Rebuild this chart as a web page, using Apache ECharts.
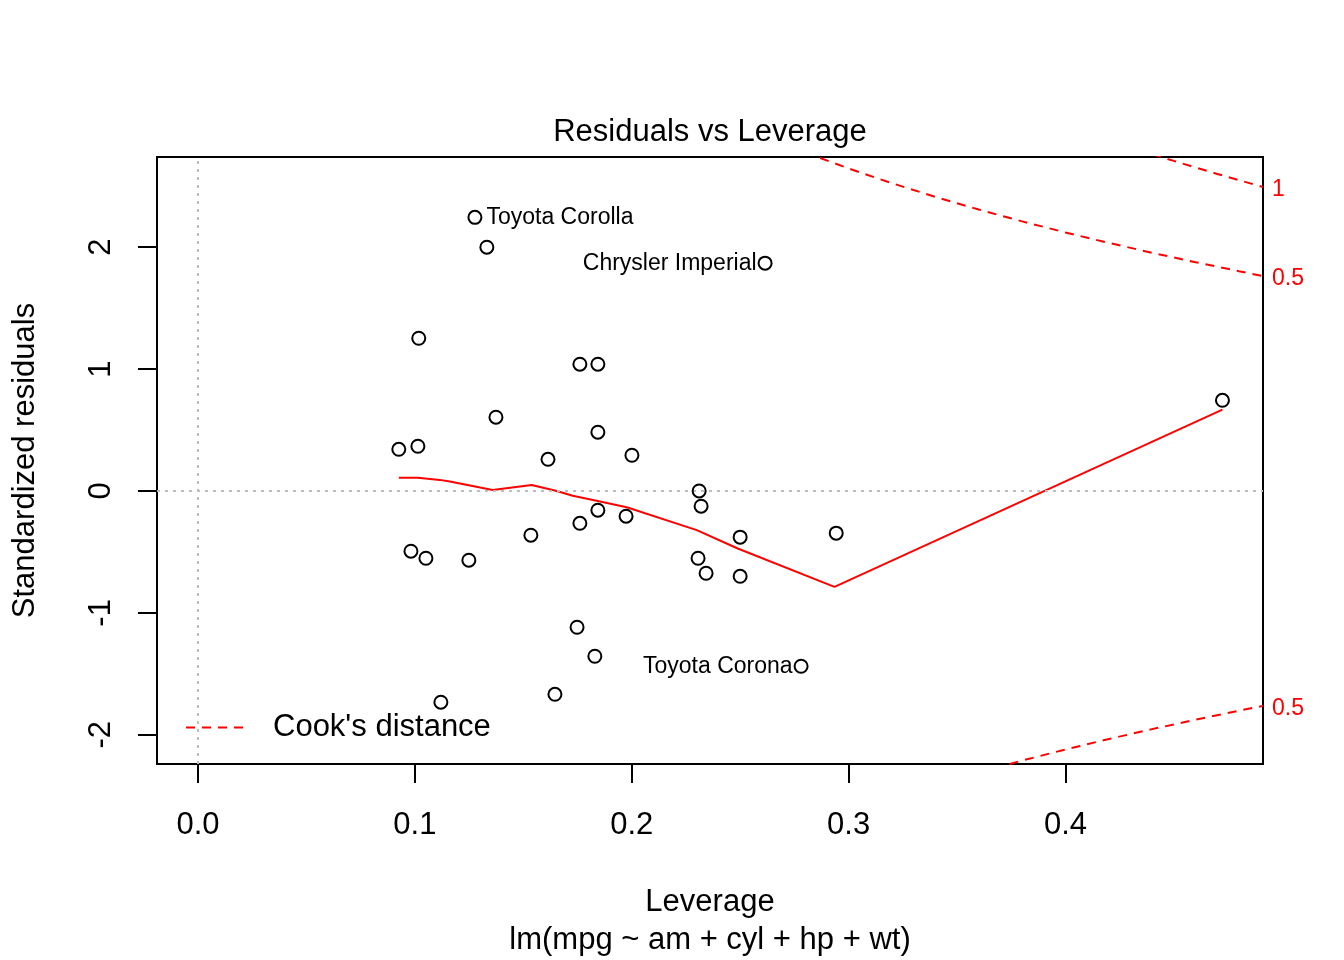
<!DOCTYPE html>
<html>
<head>
<meta charset="utf-8">
<script src="https://cdn.jsdelivr.net/npm/echarts@6/dist/echarts.min.js"></script>
<style>
  html, body { margin: 0; padding: 0; background: #fff; }
  #main { width: 1344px; height: 960px; }
</style>
</head>
<body>
<div id="main"></div>
<script>
// leverage / standardized residuals
const leverage = [0.1277, 0.1332, 0.2615, 0.1018, 0.1761, 0.1844, 0.4724, 0.1374,
  0.1844, 0.0926, 0.1014, 0.1614, 0.2001, 0.2311, 0.2320, 0.1844,
  0.1974, 0.1761, 0.1535, 0.2500, 0.2943, 0.0982, 0.1051, 0.1249,
  0.2306, 0.2343, 0.2500, 0.1748, 0.1830, 0.2781, 0.1646, 0.1120];
const stdResid = [2.245, 2.000, 1.869, 1.253, 1.040, 1.040, 0.744, 0.605,
  0.482, 0.342, 0.367, 0.260, 0.293, 0.000, -0.125, -0.158,
  -0.207, -0.265, -0.363, -0.379, -0.346, -0.494, -0.552, -0.568,
  -0.552, -0.675, -0.700, -1.118, -1.356, -1.438, -1.668, -1.733];
const idIndex = [0, 2, 29];
const idNames = ['Toyota Corolla', 'Chrysler Imperial', 'Toyota Corona'];

// red smoother
const smoothX = [0.0926, 0.1014, 0.1115, 0.1161, 0.1359, 0.1539, 0.1654, 0.1728,
  0.1843, 0.1977, 0.2300, 0.2489, 0.2935, 0.4724];
const smoothY = [0.109, 0.109, 0.091, 0.077, 0.008, 0.049, 0.000, -0.039,
  -0.082, -0.134, -0.321, -0.472, -0.787, 0.667];

// Cook's distance contours
const cookHiX05 = [0.28, 0.30, 0.32, 0.34, 0.36, 0.38, 0.40, 0.42, 0.44, 0.46, 0.48, 0.4911];
const cookHiY05 = [2.777, 2.646, 2.525, 2.413, 2.309, 2.212, 2.121, 2.035, 1.954, 1.877, 1.803, 1.763];
const cookX1 = [0.44, 0.45, 0.46, 0.47, 0.48, 0.4911];
const cookY1 = [2.763, 2.708, 2.654, 2.601, 2.550, 2.494];
const cookLoX05 = [0.36, 0.38, 0.40, 0.42, 0.44, 0.46, 0.48, 0.4911];
const cookLoY05 = [-2.309, -2.212, -2.121, -2.035, -1.954, -1.877, -1.803, -1.763];

const xTicks = [0, 0.1, 0.2, 0.3, 0.4];
const yTicks = [-2, -1, 0, 1, 2];

const FONT = 'Liberation Sans, Arial, sans-serif';
const zip = (a, b) => a.map((v, i) => [v, b[i]]);
const labelPos = ['right', 'left', 'left'];
const labelGap = [4, 1, 1];

const pts = leverage.map((x, i) => {
  const k = idIndex.indexOf(i);
  const item = { value: [x, stdResid[i]] };
  if (k >= 0) {
    item.label = {
      show: true, formatter: idNames[k], position: labelPos[k], distance: labelGap[k],
      color: '#000', fontSize: 23, fontFamily: FONT
    };
  }
  return item;
});

const cookLine = (data, lab) => ({
  name: "Cook's distance",
  type: 'line',
  data: data,
  symbol: 'none',
  silent: true,
  color: '#ff0000',
  lineStyle: { color: '#ff0000', width: 2, type: [9, 7] },
  endLabel: {
    show: true, formatter: lab, color: '#ff0000', fontSize: 23,
    fontFamily: FONT, distance: 9, offset: [0, 3]
  }
});

let myChart = echarts.init(document.getElementById('main'));
let option = {
  animation: false,
  backgroundColor: '#fff',
  textStyle: { fontFamily: FONT },
  title: [
    { text: 'Residuals vs Leverage', left: 710, top: 117, textAlign: 'center', padding: 0,
      textStyle: { fontSize: 31, fontWeight: 'normal', color: '#000', fontFamily: FONT } },
    { text: 'Leverage', left: 710, top: 887, textAlign: 'center', padding: 0,
      textStyle: { fontSize: 31, fontWeight: 'normal', color: '#000', fontFamily: FONT } },
    { text: 'lm(mpg ~ am + cyl + hp + wt)', left: 710, top: 925, textAlign: 'center', padding: 0,
      textStyle: { fontSize: 31, fontWeight: 'normal', color: '#000', fontFamily: FONT } }
  ],
  legend: {
    left: 180, top: 707,
    data: ["Cook's distance"],
    itemWidth: 64, itemHeight: 26,
    itemStyle: { opacity: 0 },
    textStyle: { fontSize: 31, color: '#000', fontFamily: FONT, padding: [0, 0, 0, 18] }
  },
  grid: {
    left: 157, top: 157, right: 81, bottom: 196,
    show: true, borderColor: '#000', borderWidth: 2, backgroundColor: 'transparent'
  },
  xAxis: {
    type: 'value', min: -0.0189, max: 0.4911,
    axisLine: { show: false, onZero: false },
    splitLine: { show: false },
    axisTick: { show: true, length: 19, customValues: xTicks, lineStyle: { color: '#000', width: 2 } },
    axisLabel: {
      customValues: xTicks, margin: 46, color: '#000', fontSize: 31, fontFamily: FONT,
      formatter: v => v.toFixed(1)
    }
  },
  yAxis: {
    type: 'value', min: -2.240, max: 2.740,
    name: 'Standardized residuals', nameLocation: 'middle', nameGap: 116,
    nameTextStyle: { fontSize: 31, color: '#000', fontFamily: FONT },
    axisLine: { show: false, onZero: false },
    splitLine: { show: false },
    axisTick: { show: true, length: 19, customValues: yTicks, lineStyle: { color: '#000', width: 2 } },
    axisLabel: {
      customValues: yTicks, margin: 40, rotate: 90, color: '#000', fontSize: 31, fontFamily: FONT,
      formatter: v => String(v)
    }
  },
  series: [
    {
      type: 'scatter',
      data: pts,
      symbol: 'circle',
      symbolSize: 13,
      itemStyle: { color: 'transparent', borderColor: '#000', borderWidth: 2, opacity: 1 },
      z: 5,
      markLine: {
        silent: true, symbol: 'none', label: { show: false },
        lineStyle: { color: '#bebebe', type: [3, 5], width: 2 },
        data: [{ xAxis: 0 }, { yAxis: 0 }]
      }
    },
    {
      type: 'line',
      data: zip(smoothX, smoothY),
      symbol: 'none',
      silent: true,
      lineStyle: { color: '#ff0000', width: 2 },
      z: 4
    },
    cookLine(zip(cookHiX05, cookHiY05), '0.5'),
    cookLine(zip(cookX1, cookY1), '1'),
    cookLine(zip(cookLoX05, cookLoY05), '0.5')
  ]
};
myChart.setOption(option);
</script>
</body>
</html>
